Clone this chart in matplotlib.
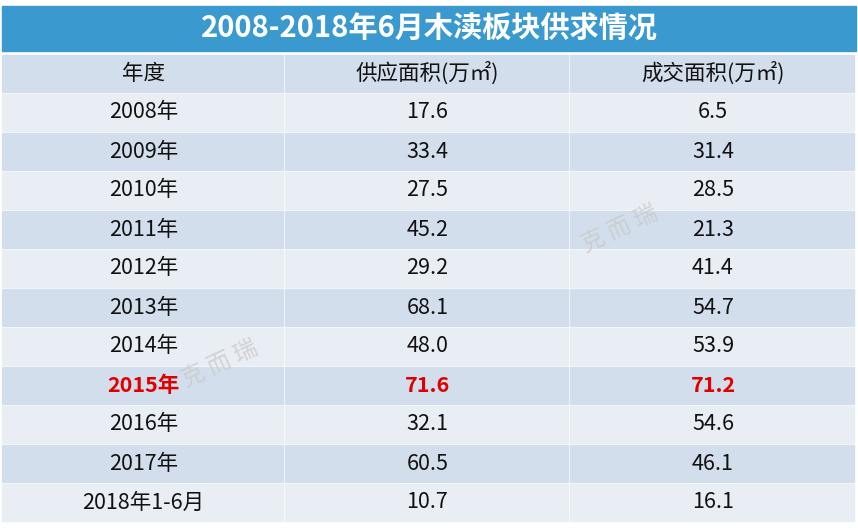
import matplotlib
matplotlib.use("Agg")
import matplotlib.pyplot as plt
from matplotlib.patches import Rectangle

plt.rcParams['font.family'] = ['Noto Sans CJK SC', 'DejaVu Sans']

title = "2008-2018年6月木渎板块供求情况"
headers = ["年度", "供应面积(万㎡)", "成交面积(万㎡)"]
years = ["2008年", "2009年", "2010年", "2011年", "2012年", "2013年", "2014年",
         "2015年", "2016年", "2017年", "2018年1-6月"]
supply = ["17.6", "33.4", "27.5", "45.2", "29.2", "68.1", "48.0", "71.6", "32.1", "60.5", "10.7"]
deal = ["6.5", "31.4", "28.5", "21.3", "41.4", "54.7", "53.9", "71.2", "54.6", "46.1", "16.1"]
highlight = "2015年"

W, H = 858, 531
fig = plt.figure(figsize=(W/100, H/100), dpi=100)
ax = fig.add_axes([0, 0, 1, 1])
ax.set_xlim(0, W); ax.set_ylim(H, 0); ax.axis('off')

L, R = 2, 856
ax.add_patch(Rectangle((L, 6), R-L, 45, color='#3A9AD0'))
ax.text(W/2, 29, title, ha='center', va='center', color='white', fontsize=21, fontweight='bold')

cols = [L, 285, 570, R]
top = 55
rh = 39.0
dark, light = '#D2DEEB', '#E9EDF4'
rows = [headers] + [[y, s, d] for y, s, d in zip(years, supply, deal)]
for i, row in enumerate(rows):
    y0 = top + i*rh
    c = dark if i % 2 == 0 else light
    for j in range(3):
        ax.add_patch(Rectangle((cols[j], y0), cols[j+1]-cols[j]-2, rh-2, color=c))
        red = i > 0 and row[0] == highlight
        ax.text((cols[j]+cols[j+1])/2, y0+rh/2-1, row[j], ha='center', va='center',
                fontsize=15.5, color='#E00000' if red else '#111111',
                fontweight='bold' if red else 'normal')

for (x, y) in [(620, 230), (220, 365)]:
    ax.text(x, y, "克 而 瑞", fontsize=17, color='#C8C8C8', alpha=0.7, rotation=25,
            ha='center', va='center')

fig.savefig("out.png", dpi=100)
